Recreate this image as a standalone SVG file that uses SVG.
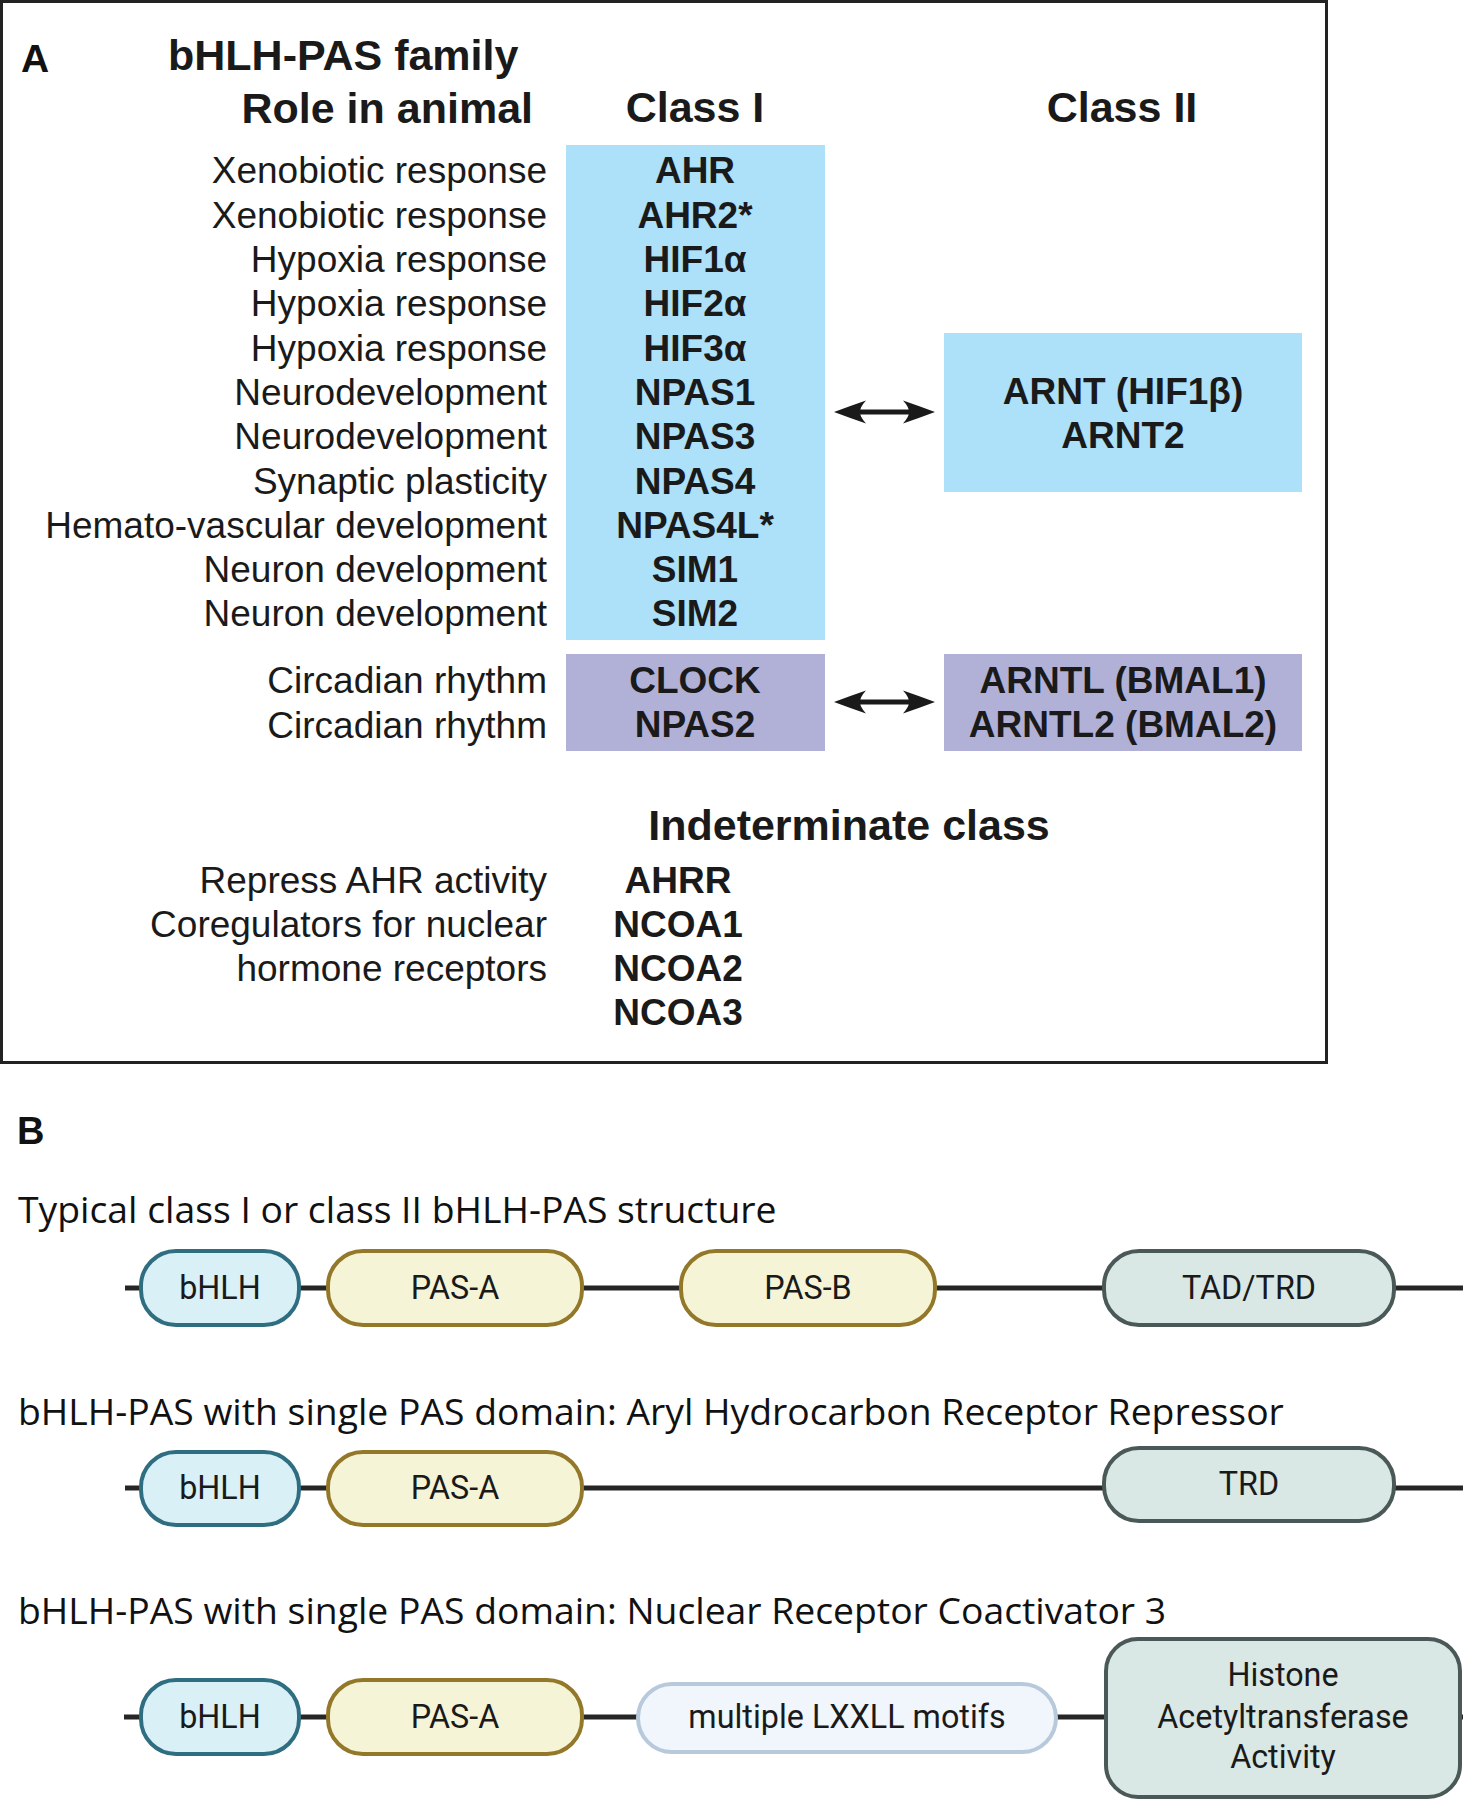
<svg xmlns="http://www.w3.org/2000/svg" width="1463" height="1800" viewBox="0 0 1463 1800">
<style>
.lbl{font-family:"Liberation Sans",Arial,sans-serif;fill:#111;font-weight:bold}
.hd{font-family:"Liberation Sans",Arial,sans-serif;font-weight:bold;font-size:43px;fill:#1a1a1a}
.role{font-family:"Liberation Sans",Arial,sans-serif;font-size:37px;fill:#1a1a1a;text-anchor:end}
.gene{font-family:"Liberation Sans",Arial,sans-serif;font-weight:bold;font-size:37px;fill:#1a1a1a;text-anchor:middle}
.ttl{font-family:"Open Sans","Noto Sans",sans-serif;font-size:37.3px;fill:#111}
.dom{font-family:Roboto,"Liberation Sans",sans-serif;font-size:32.3px;fill:#1a1a1a;text-anchor:middle}
.blue{fill:#ade0f9}
.purple{fill:#b1b1d8}
.bb{stroke:#262626;stroke-width:5;fill:none}
.arr{fill:#1a1a1a}
.pbhlh{fill:#d9f0f7;stroke:#2f6e80;stroke-width:4}
.ppas{fill:#f6f4d7;stroke:#94782a;stroke-width:4}
.ptad{fill:#d9e8e5;stroke:#4a5957;stroke-width:4}
.plx{fill:#f0f6fb;stroke:#b8c9dc;stroke-width:4}
</style>
<rect width="1463" height="1800" fill="#fff"/>
<rect x="1.5" y="1.5" width="1325" height="1061" fill="none" stroke="#222" stroke-width="3"/>

<g id="headers">
<text class="lbl" x="21" y="72" font-size="39">A</text>
<text class="hd" x="168" y="70">bHLH-PAS family</text>
<text class="hd" x="533" y="123" text-anchor="end">Role in animal</text>
<text class="hd" x="695" y="122" text-anchor="middle">Class I</text>
<text class="hd" x="1122" y="122" text-anchor="middle">Class II</text>
<text class="hd" x="849" y="840" text-anchor="middle">Indeterminate class</text>
</g>

<g id="roles">
<text class="role" x="547" y="183">Xenobiotic response</text>
<text class="role" x="547" y="227.5">Xenobiotic response</text>
<text class="role" x="547" y="272">Hypoxia response</text>
<text class="role" x="547" y="316">Hypoxia response</text>
<text class="role" x="547" y="360.5">Hypoxia response</text>
<text class="role" x="547" y="405">Neurodevelopment</text>
<text class="role" x="547" y="449">Neurodevelopment</text>
<text class="role" x="547" y="493.5">Synaptic plasticity</text>
<text class="role" x="547" y="538">Hemato-vascular development</text>
<text class="role" x="547" y="582">Neuron development</text>
<text class="role" x="547" y="626">Neuron development</text>
<text class="role" x="547" y="693">Circadian rhythm</text>
<text class="role" x="547" y="738">Circadian rhythm</text>
<text class="role" x="547" y="893">Repress AHR activity</text>
<text class="role" x="547" y="937">Coregulators for nuclear</text>
<text class="role" x="547" y="981">hormone receptors</text>
</g>

<g id="class1">
<rect class="blue" x="566" y="145" width="259" height="495"/>
<text class="gene" x="695" y="183">AHR</text>
<text class="gene" x="695" y="227.5">AHR2*</text>
<text class="gene" x="695" y="272">HIF1α</text>
<text class="gene" x="695" y="316">HIF2α</text>
<text class="gene" x="695" y="360.5">HIF3α</text>
<text class="gene" x="695" y="405">NPAS1</text>
<text class="gene" x="695" y="449">NPAS3</text>
<text class="gene" x="695" y="493.5">NPAS4</text>
<text class="gene" x="695" y="538">NPAS4L*</text>
<text class="gene" x="695" y="582">SIM1</text>
<text class="gene" x="695" y="626">SIM2</text>
</g>

<g id="class2-arnt">
<rect class="blue" x="944" y="333" width="358" height="159"/>
<text class="gene" x="1123" y="404">ARNT (HIF1β)</text>
<text class="gene" x="1123" y="448">ARNT2</text>
</g>

<g id="class1-circadian">
<rect class="purple" x="566" y="654" width="259" height="97"/>
<text class="gene" x="695" y="693">CLOCK</text>
<text class="gene" x="695" y="737">NPAS2</text>
</g>

<g id="class2-circadian">
<rect class="purple" x="944" y="654" width="358" height="97"/>
<text class="gene" x="1123" y="693">ARNTL (BMAL1)</text>
<text class="gene" x="1123" y="737">ARNTL2 (BMAL2)</text>
</g>

<g id="indeterminate">
<text class="gene" x="678" y="893">AHRR</text>
<text class="gene" x="678" y="937">NCOA1</text>
<text class="gene" x="678" y="981">NCOA2</text>
<text class="gene" x="678" y="1025">NCOA3</text>
</g>

<g id="connectors">
<g id="arrow-arnt">
<rect class="arr" x="855" y="409.5" width="59" height="5"/>
<path class="arr" d="M834 412 Q850 406 866 400.5 Q860 407 860 412 Q860 417 866 423.5 Q850 418 834 412 Z"/>
<path class="arr" d="M935 412 Q919 406 903 400.5 Q909 407 909 412 Q909 417 903 423.5 Q919 418 935 412 Z"/>
</g>
<g id="arrow-bmal">
<rect class="arr" x="855" y="699.5" width="59" height="5"/>
<path class="arr" d="M834 702 Q850 696 866 690.5 Q860 697 860 702 Q860 707 866 713.5 Q850 708 834 702 Z"/>
<path class="arr" d="M935 702 Q919 696 903 690.5 Q909 697 909 702 Q909 707 903 713.5 Q919 708 935 702 Z"/>
</g>
<line class="bb" x1="125" y1="1288" x2="1463" y2="1288"/>
<line class="bb" x1="125" y1="1488" x2="1463" y2="1488"/>
<line class="bb" x1="124" y1="1717" x2="1463" y2="1717"/>
</g>

<g id="panelB-titles">
<text class="lbl" x="17" y="1144" font-size="38">B</text>
<text class="ttl" x="18" y="1223">Typical class I or class II bHLH-PAS structure</text>
<text class="ttl" x="18" y="1425">bHLH-PAS with single PAS domain: Aryl Hydrocarbon Receptor Repressor</text>
<text class="ttl" x="18" y="1624">bHLH-PAS with single PAS domain: Nuclear Receptor Coactivator 3</text>
</g>

<g id="row1-bhlh"><rect class="pbhlh" x="141" y="1251" width="158" height="74" rx="35"/><text class="dom" x="220" y="1299">bHLH</text></g>
<g id="row1-pasa"><rect class="ppas" x="328" y="1251" width="254" height="74" rx="35"/><text class="dom" x="455" y="1299">PAS-A</text></g>
<g id="row1-pasb"><rect class="ppas" x="681" y="1251" width="254" height="74" rx="35"/><text class="dom" x="808" y="1299">PAS-B</text></g>
<g id="row1-tad"><rect class="ptad" x="1104" y="1251" width="290" height="74" rx="35"/><text class="dom" x="1249" y="1299">TAD/TRD</text></g>

<g id="row2-bhlh"><rect class="pbhlh" x="141" y="1452" width="158" height="73" rx="35"/><text class="dom" x="220" y="1499">bHLH</text></g>
<g id="row2-pasa"><rect class="ppas" x="328" y="1452" width="254" height="73" rx="35"/><text class="dom" x="455" y="1499">PAS-A</text></g>
<g id="row2-trd"><rect class="ptad" x="1104" y="1448" width="290" height="73" rx="35"/><text class="dom" x="1249" y="1495">TRD</text></g>

<g id="row3-bhlh"><rect class="pbhlh" x="141" y="1680" width="158" height="74" rx="35"/><text class="dom" x="220" y="1728">bHLH</text></g>
<g id="row3-pasa"><rect class="ppas" x="328" y="1680" width="254" height="74" rx="35"/><text class="dom" x="455" y="1728">PAS-A</text></g>
<g id="row3-lxxll"><rect class="plx" x="638" y="1684" width="418" height="68" rx="34"/><text class="dom" x="847" y="1728">multiple LXXLL motifs</text></g>
<g id="row3-hat"><rect class="ptad" x="1106" y="1639" width="354" height="158" rx="32"/>
<text class="dom" x="1283" y="1686">Histone</text>
<text class="dom" x="1283" y="1728">Acetyltransferase</text>
<text class="dom" x="1283" y="1768">Activity</text></g>
</svg>
